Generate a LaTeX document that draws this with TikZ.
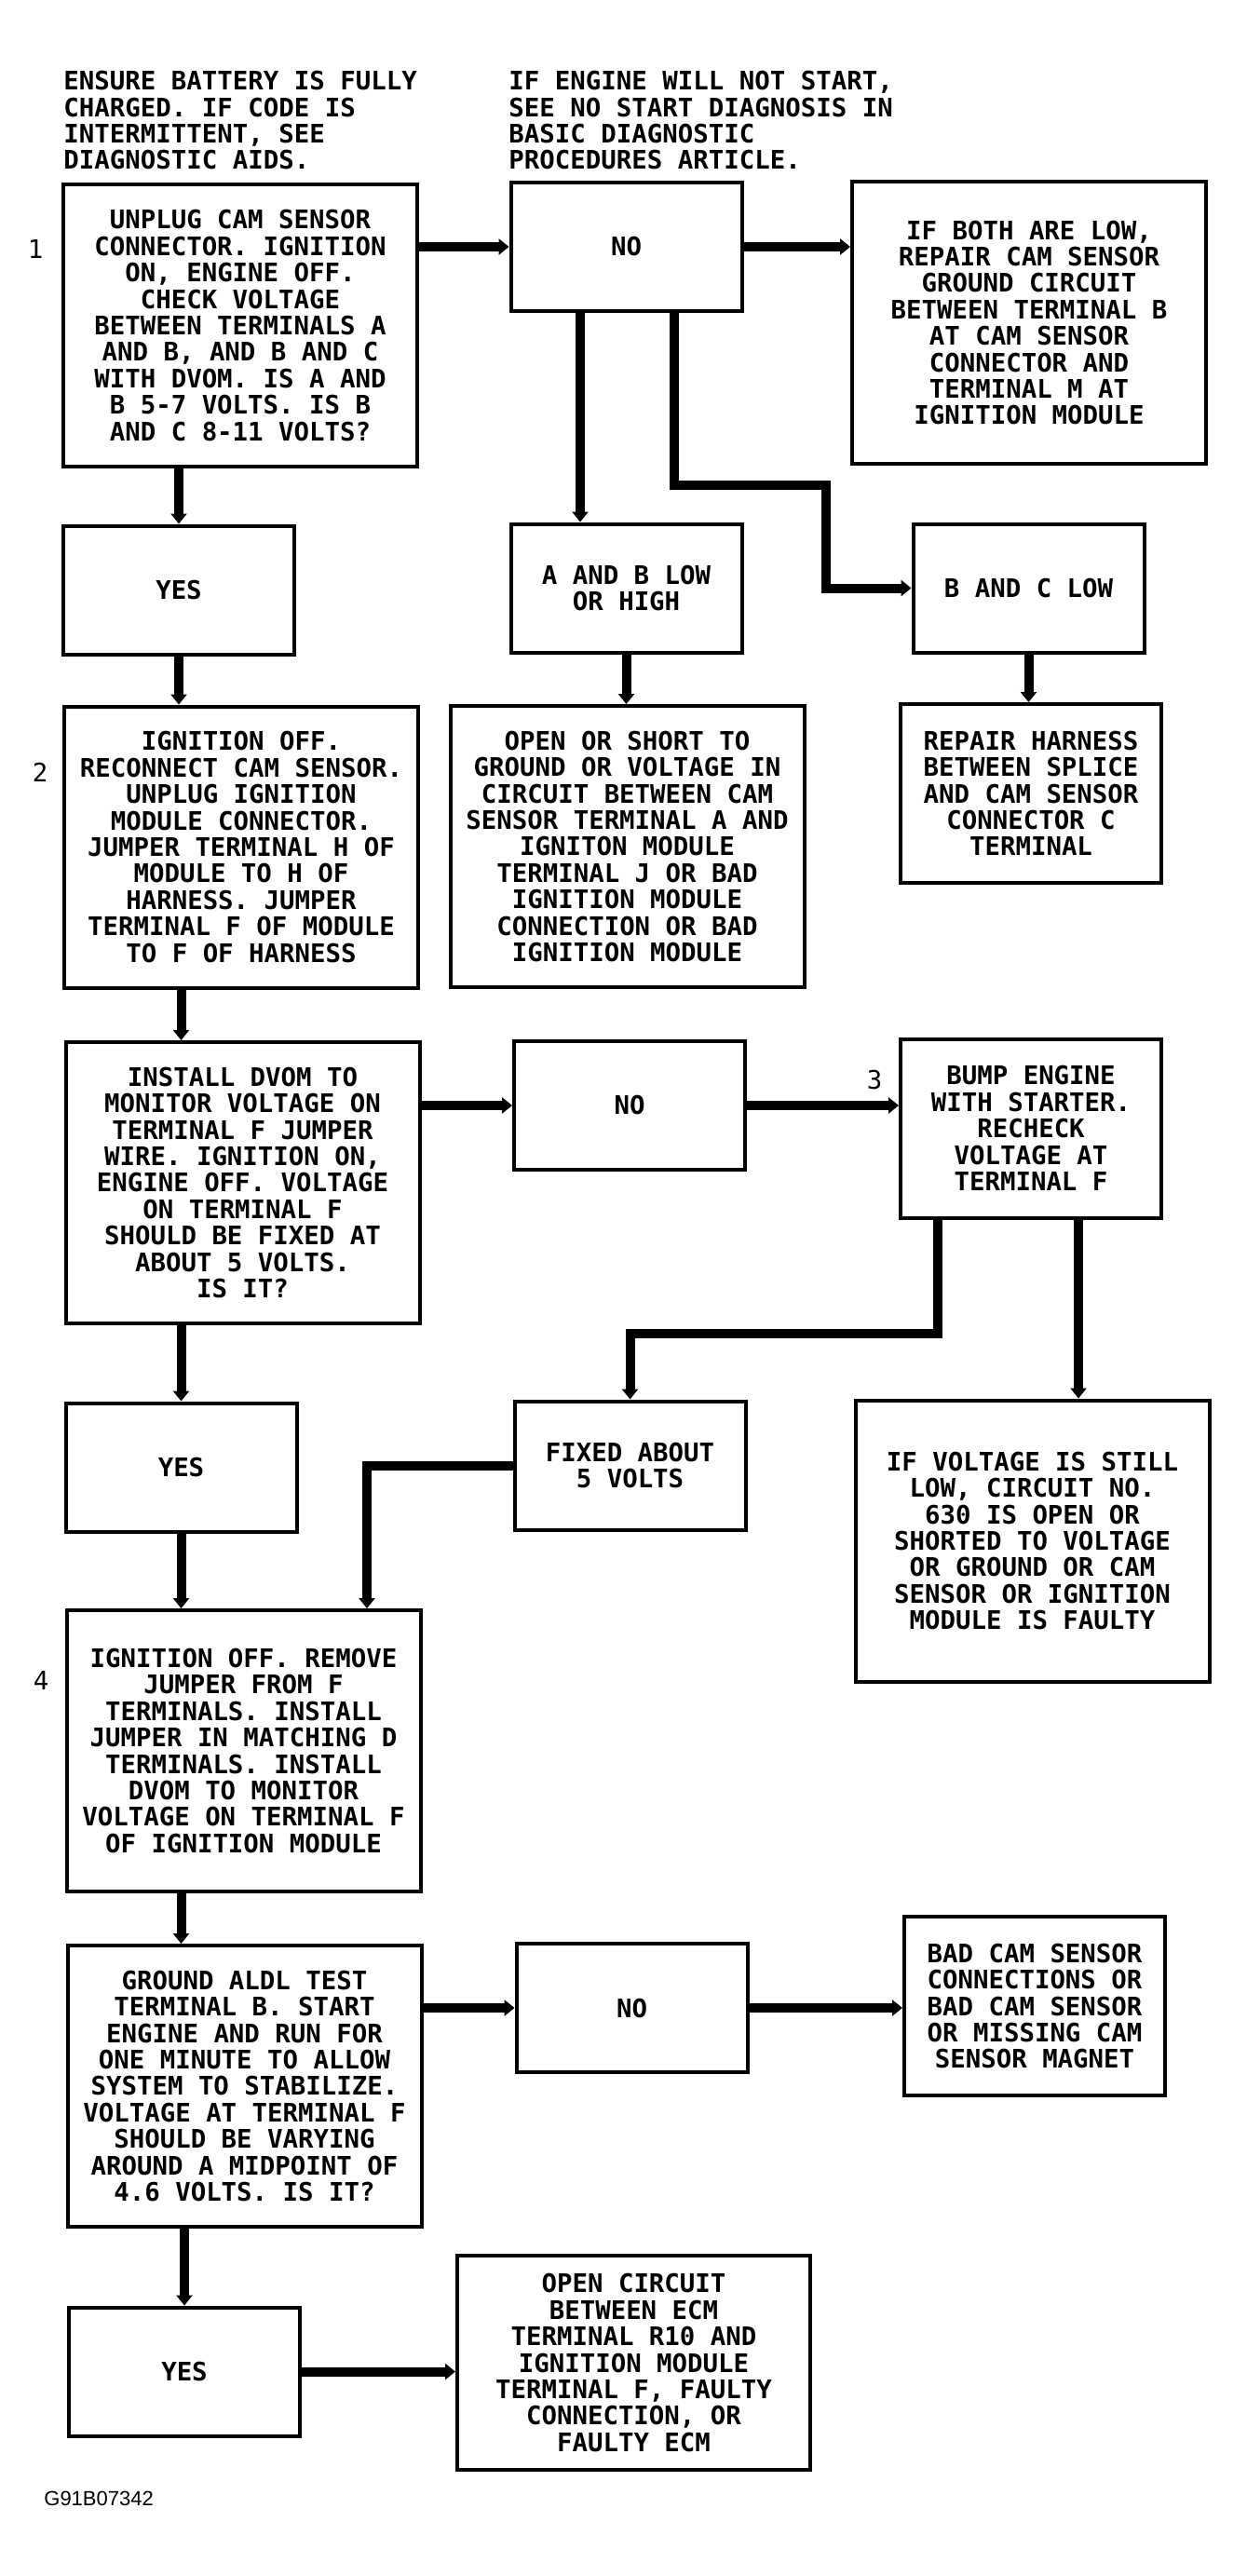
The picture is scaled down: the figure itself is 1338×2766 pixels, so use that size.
\documentclass[tikz,border=0pt]{standalone}
\usepackage{fontspec}
\setmainfont{DejaVu Sans Mono}
\newfontfamily\tagfont{Liberation Sans}
\usetikzlibrary{arrows.meta}

\begin{document}
\begin{tikzpicture}[x=0.5pt,y=-0.5pt,
  font=\bfseries\fontsize{13.7}{14.2}\selectfont,
  box/.style={draw,line width=2pt,inner sep=0pt,align=center},
  bigbox/.style={box,minimum width=190pt,minimum height=151pt},
  smallbox/.style={box,minimum width=124pt,minimum height=69pt},
  midbox/.style={box,minimum width=140pt,minimum height=96pt},
  flow/.style={line width=5pt,-{Triangle[width=8.5pt,length=5.5pt]}},
  note/.style={anchor=north west,align=left,inner sep=0pt},
  stepno/.style={inner sep=0pt,font=\mdseries\fontsize{13.7}{14.2}\selectfont}]
  \useasboundingbox (0,0) rectangle (1338,2766);

  % Notes on top
  \node[note] (battery) at (68,76) {ENSURE BATTERY IS FULLY\\CHARGED. IF CODE IS\\INTERMITTENT, SEE\\DIAGNOSTIC AIDS.};
  \node[note] (nostart) at (546,76) {IF ENGINE WILL NOT START,\\SEE NO START DIAGNOSIS IN\\BASIC DIAGNOSTIC\\PROCEDURES ARTICLE.};

  % Step numbers
  \node[stepno] (s1) at (38,268) {1};
  \node[stepno] (s2) at (43,829) {2};
  \node[stepno] (s3) at (939,1160) {3};
  \node[stepno] (s4) at (44,1804) {4};

  % Step 1
  \node[bigbox] (check) at (258,349.5) {UNPLUG CAM SENSOR\\CONNECTOR. IGNITION\\ON, ENGINE OFF.\\CHECK VOLTAGE\\BETWEEN TERMINALS A\\AND B, AND B AND C\\WITH DVOM. IS A AND\\B 5-7 VOLTS. IS B\\AND C 8-11 VOLTS?};
  \node[smallbox] (no1) at (672.5,265) {NO};
  \node[bigbox] (gnd) at (1105,346.5) {IF BOTH ARE LOW,\\REPAIR CAM SENSOR\\GROUND CIRCUIT\\BETWEEN TERMINAL B\\AT CAM SENSOR\\CONNECTOR AND\\TERMINAL M AT\\IGNITION MODULE};
  \node[smallbox] (yes1) at (192,633.5) {YES};
  \node[smallbox] (ablow) at (672.5,631.5) {A AND B LOW\\OR HIGH};
  \node[smallbox] (bclow) at (1104.5,631.5) {B AND C LOW};

  % Step 2
  \node[bigbox] (jumper) at (259,909.5) {IGNITION OFF.\\RECONNECT CAM SENSOR.\\UNPLUG IGNITION\\MODULE CONNECTOR.\\JUMPER TERMINAL H OF\\MODULE TO H OF\\HARNESS. JUMPER\\TERMINAL F OF MODULE\\TO F OF HARNESS};
  \node[bigbox] (short) at (673.5,909) {OPEN OR SHORT TO\\GROUND OR VOLTAGE IN\\CIRCUIT BETWEEN CAM\\SENSOR TERMINAL A AND\\IGNITON MODULE\\TERMINAL J OR BAD\\IGNITION MODULE\\CONNECTION OR BAD\\IGNITION MODULE};
  \node[midbox] (harness) at (1107,852) {REPAIR HARNESS\\BETWEEN SPLICE\\AND CAM SENSOR\\CONNECTOR C\\TERMINAL};
  \node[bigbox] (dvom) at (260.5,1270) {INSTALL DVOM TO\\MONITOR VOLTAGE ON\\TERMINAL F JUMPER\\WIRE. IGNITION ON,\\ENGINE OFF. VOLTAGE\\ON TERMINAL F\\SHOULD BE FIXED AT\\ABOUT 5 VOLTS.\\IS IT?};
  \node[smallbox] (no2) at (676,1187) {NO};

  % Step 3
  \node[midbox] (bump) at (1107,1211.5) {BUMP ENGINE\\WITH STARTER.\\RECHECK\\VOLTAGE AT\\TERMINAL F};
  \node[smallbox] (yes2) at (194.5,1575.5) {YES};
  \node[smallbox] (fixed) at (676.5,1573.5) {FIXED ABOUT\\5 VOLTS};
  \node[bigbox] (still) at (1108.5,1654.5) {IF VOLTAGE IS STILL\\LOW, CIRCUIT NO.\\630 IS OPEN OR\\SHORTED TO VOLTAGE\\OR GROUND OR CAM\\SENSOR OR IGNITION\\MODULE IS FAULTY};

  % Step 4
  \node[bigbox] (remove) at (261.5,1880) {IGNITION OFF. REMOVE\\JUMPER FROM F\\TERMINALS. INSTALL\\JUMPER IN MATCHING D\\TERMINALS. INSTALL\\DVOM TO MONITOR\\VOLTAGE ON TERMINAL F\\OF IGNITION MODULE};
  \node[bigbox] (ground) at (262.5,2240) {GROUND ALDL TEST\\TERMINAL B. START\\ENGINE AND RUN FOR\\ONE MINUTE TO ALLOW\\SYSTEM TO STABILIZE.\\VOLTAGE AT TERMINAL F\\SHOULD BE VARYING\\AROUND A MIDPOINT OF\\4.6 VOLTS. IS IT?};
  \node[smallbox] (no3) at (678.5,2156) {NO};
  \node[midbox] (magnet) at (1111,2154) {BAD CAM SENSOR\\CONNECTIONS OR\\BAD CAM SENSOR\\OR MISSING CAM\\SENSOR MAGNET};
  \node[smallbox] (yes3) at (198,2546.5) {YES};
  \node[box,minimum width=189.5pt,minimum height=115pt] (ecm) at (680.5,2537) {OPEN CIRCUIT\\BETWEEN ECM\\TERMINAL R10 AND\\IGNITION MODULE\\TERMINAL F, FAULTY\\CONNECTION, OR\\FAULTY ECM};

  % Figure tag
  \node[font=\tagfont\fontsize{11}{13}\selectfont,anchor=west,inner sep=0pt] (tag) at (47,2683) {G91B07342};

  % Bends
  \coordinate (k1) at (887,521);
  \coordinate (k2) at (1007,1432);
  \coordinate (k3) at (394,1572);

  % Connectors
  \draw[flow] (no1.west -| check.east) -- (no1.west);
  \draw[flow] (no1.east) -- (no1.east -| gnd.west);
  \draw[flow] (check.south -| yes1) -- (yes1.north);
  \draw[flow] ([xshift=-24.75pt]no1.south) -- ([xshift=-24.75pt]ablow.north);
  \draw[flow] ([xshift=25.75pt]no1.south) |- (k1) |- (bclow.west);
  \draw[flow] (yes1.south) -- (yes1.south |- jumper.north);
  \draw[flow] (ablow.south) -- (ablow.south |- short.north);
  \draw[flow] (bclow.south) -- (bclow.south |- harness.north);
  \draw[flow] (jumper.south -| yes2) -- (dvom.north -| yes2);
  \draw[flow] (dvom.east |- no2) -- (no2.west);
  \draw[flow] (no2.east) -- (no2.east -| bump.west);
  \draw[flow] (dvom.south -| yes2) -- (yes2.north);
  \draw[flow] (bump.south -| k2) -- (k2) -| (fixed.north);
  \draw[flow] ([xshift=25.5pt]bump.south) -- ([xshift=25.5pt]bump.south |- still.north);
  \draw[flow] (yes2.south) -- (yes2.south |- remove.north);
  \draw[flow] (fixed.west) -| (k3 |- remove.north);
  \draw[flow] (remove.south -| yes2) -- (ground.north -| yes2);
  \draw[flow] (ground.east |- no3) -- (no3.west);
  \draw[flow] (no3.east) -- (no3.east -| magnet.west);
  \draw[flow] (ground.south -| yes3) -- (yes3.north);
  \draw[flow] (yes3.east) -- (yes3.east -| ecm.west);
\end{tikzpicture}
\end{document}
